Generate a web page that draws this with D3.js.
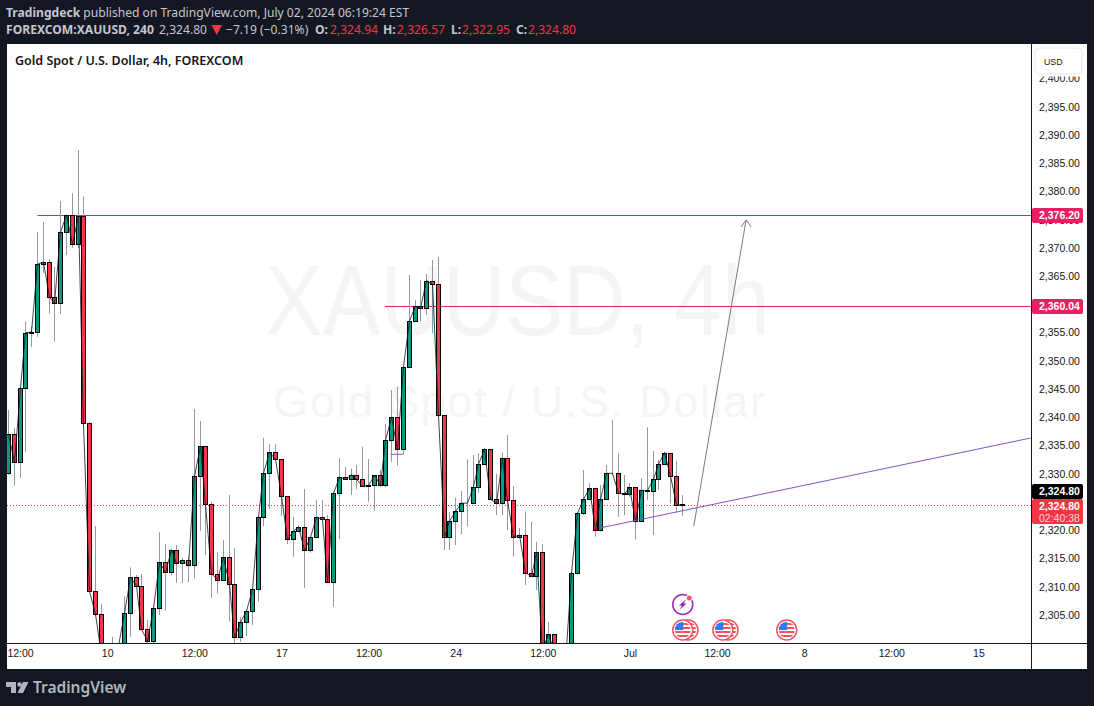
<!DOCTYPE html>
<html lang="en">
  <head>
    <meta charset="utf-8"/>
    <title>XAUUSD 4h</title>
    <script src="https://cdnjs.cloudflare.com/ajax/libs/d3/7.8.5/d3.min.js"></script>
    <style>
      body { margin: 0; background: #131722; }
      svg { display: block; }
      text { font-family: "Liberation Sans", sans-serif; }
      .head text, .head { font-family: "Noto Sans", sans-serif; }
      .axis path, .axis line { display: none; }
      .axis text { font-family: "Liberation Sans", sans-serif; font-size: 10.5px; fill: #131722; }
    </style>
  </head>
  <body>
    <script type="text/javascript">
      // candles, one value per 4h bar
      var opens = [2330.43,2337.33,2332.38,2345.48,2355.33,2355.45,2367.5,2367.8,2361.6,2360.54,2373.12,2376.18,2370.99,2376.0,2339.29,2309.53,2305.45,2298.27,2293.8,2296.48,
        2299.84,2305.63,2312.0,2310.52,2302.8,2300.73,2306.52,2314.67,2312.9,2316.85,2314.49,2315.02,2314.13,2329.9,2335.21,2324.94,2312.65,2311.58,2315.55,2310.77,
        2301.38,2304.04,2305.99,2309.88,2322.64,2330.43,2334.15,2332.91,2326.36,2318.74,2320.16,2320.97,2316.79,2319.1,2322.64,2322.28,2311.12,2326.89,2329.72,2329.37,
        2330.18,2329.37,2328.12,2328.3,2330.07,2328.3,2336.27,2340.35,2334.68,2349.31,2357.41,2360.06,2359.65,2364.54,2363.96,2340.7,2319.2,2321.93,2323.7,2325.12,
        2325.12,2328.06,2332.02,2334.68,2325.82,2325.12,2333.09,2325.65,2319.1,2319.5,2312.83,2312.18,2316.44,2299.13,2301.92,2298.78,2296.48,2299.49,2312.72,2323.35,
        2325.82,2327.77,2320.33,2325.82,2330.43,2330.43,2326.89,2326.77,2327.95,2321.93,2327.42,2327.38,2329.37,2332.02,2334.08,2329.95,2324.94];
      var highs = [2341.64,2338.45,2345.6,2357.28,2356.4,2373.22,2374.94,2368.33,2367.0,2378.66,2376.36,2380.02,2387.69,2379.42,2339.57,2321.1,2307.28,2300.0,2301.49,2300.37,
        2308.7,2313.78,2312.42,2312.6,2304.45,2306.57,2319.98,2317.9,2317.15,2317.73,2315.43,2315.66,2341.82,2339.69,2335.21,2325.4,2316.44,2318.6,2326.59,2317.15,
        2305.03,2306.22,2310.11,2322.74,2336.73,2335.57,2335.57,2332.91,2326.36,2322.74,2321.1,2327.65,2319.2,2325.7,2325.7,2323.04,2327.17,2333.09,2331.6,2331.31,
        2331.9,2335.14,2332.96,2330.13,2331.0,2339.16,2345.18,2345.77,2349.43,2365.55,2361.12,2364.67,2365.73,2368.21,2368.79,2340.76,2323.58,2326.11,2327.3,2332.91,
        2333.67,2333.97,2334.91,2334.73,2330.3,2334.08,2337.21,2328.18,2320.74,2323.63,2321.86,2318.31,2317.9,2304.03,2301.97,2299.13,2300.0,2312.95,2323.45,2331.0,
        2328.66,2327.77,2328.36,2331.9,2339.87,2333.97,2330.13,2328.71,2327.95,2329.54,2338.58,2334.38,2332.78,2334.25,2334.08,2332.61,2326.57];
      var lows = [2330.13,2328.23,2329.65,2334.25,2352.85,2354.62,2365.9,2358.76,2353.74,2358.64,2369.1,2370.39,2370.33,2338.98,2309.4,2305.2,2295.6,2292.05,2292.05,2295.6,
        2299.13,2301.49,2310.34,2302.68,2299.13,2300.0,2305.33,2306.09,2312.29,2311.05,2310.95,2311.12,2311.83,2320.26,2315.96,2308.4,2309.18,2311.53,2304.15,2300.3,
        2300.6,2301.62,2303.56,2307.69,2321.1,2324.1,2332.91,2322.87,2317.9,2315.66,2320.08,2310.17,2316.37,2319.02,2322.16,2311.0,2306.81,2318.79,2329.24,2326.59,
        2327.6,2328.1,2325.4,2323.8,2328.0,2327.95,2332.48,2331.77,2333.67,2349.2,2357.28,2357.28,2358.47,2355.23,2340.45,2316.85,2316.85,2317.73,2319.68,2320.97,
        2325.12,2326.99,2331.9,2325.7,2323.04,2323.04,2320.39,2315.66,2319.06,2310.64,2312.01,2309.76,2297.36,2299.13,2297.36,2295.2,2295.94,2299.13,2312.54,2323.04,
        2325.7,2319.2,2320.08,2325.7,2330.13,2322.74,2323.04,2326.29,2318.74,2321.86,2325.7,2319.5,2327.47,2332.02,2325.12,2323.45,2322.95];
      var closes = [2337.33,2332.38,2345.48,2355.33,2355.45,2367.5,2367.8,2361.6,2360.54,2373.12,2376.18,2370.99,2376.0,2339.29,2309.53,2305.45,2298.27,2293.8,2296.48,2299.84,
        2305.63,2312.0,2310.52,2302.8,2300.73,2306.52,2314.67,2312.9,2316.85,2314.49,2315.02,2314.13,2329.9,2335.21,2324.94,2312.65,2311.58,2315.55,2310.77,2301.38,
        2304.04,2305.99,2309.88,2322.64,2330.43,2334.15,2332.91,2326.36,2318.74,2320.16,2320.97,2316.79,2319.1,2322.64,2322.28,2311.12,2326.89,2329.72,2329.37,2330.18,
        2329.37,2328.12,2328.3,2330.07,2328.3,2336.27,2340.35,2334.68,2349.31,2357.41,2360.06,2359.65,2364.54,2363.96,2340.7,2319.2,2321.93,2323.7,2325.12,2325.15,
        2328.06,2332.02,2334.68,2325.82,2325.12,2333.09,2325.65,2319.1,2319.5,2312.83,2312.18,2316.44,2299.13,2301.92,2298.78,2296.48,2299.49,2312.72,2323.35,2325.82,
        2327.77,2320.33,2325.82,2330.43,2330.43,2326.89,2326.77,2327.95,2321.93,2327.42,2327.38,2329.37,2332.02,2334.08,2329.95,2324.87,2324.8];

      var priceTicks = [2305,2310,2315,2320,2330,2335,2340,2345,2350,2355,2365,2370,2375,2380,2385,2390,2395,2400];
      var timeTicks = [2,17,32,47,62,77,92,107,122,137,152,167];
      var timeLabels = ["12:00","10","12:00","17","12:00","24","12:00","Jul","12:00","8","12:00","15"];

      // drawings on the chart, [bar, price]
      var resistance = 2376.2;
      var target = 2360.04;
      var lastPrice = 2324.8;
      var trendLine = [[101.8, 2320.74], [176, 2336.68]];
      var smallLine = [[65.8, 2333.8], [67.9, 2333.8]];
      var arrowLine = [[118, 2321.1], [127, 2375.3]];
      var flagsBack = [117, 123.9];
      var flagsFront = [116.1, 123, 134];

      var w = 1094, h = 706;
      var left = 7, right = 1031, top_ = 44, bottom = 643;

      var svg = d3.select("body").append("svg").attr("width", w).attr("height", h);

      var xScale = d3.scaleLinear().domain([0, 116]).range([8.4, 682.2]);
      var yScale = d3.scaleLinear().domain([2400, 2305]).range([80.5, 616.9]);

      // white panel with chart, price and time areas
      svg.append("rect").attr("x", left).attr("y", top_).attr("width", 1080).attr("height", 625).attr("fill", "#fff");
      svg.append("clipPath").attr("id", "plot").append("rect")
         .attr("x", left).attr("y", top_).attr("width", right - left).attr("height", bottom - top_);

      // watermark
      svg.append("text").attr("x", 265).attr("y", 335).attr("textLength", 505).attr("lengthAdjust", "spacingAndGlyphs")
         .attr("font-size", "100px").attr("fill", "#f5f5f5").attr("font-family", "Noto Sans").text("XAUUSD, 4h");
      svg.append("text").attr("x", 273).attr("y", 417).attr("textLength", 492).attr("lengthAdjust", "spacing")
         .attr("font-size", "45px").attr("fill", "#f5f5f5").attr("font-family", "Noto Sans").text("Gold Spot / U.S. Dollar");

      var plot = svg.append("g").attr("clip-path", "url(#plot)");

      function cx(i) { return Math.floor(xScale(i)) + 0.5; }
      function py(p) { return Math.round(yScale(p)) + 0.5; }
      var bars = d3.range(closes.length);

      // horizontal levels
      plot.append("line").attr("x1", xScale(5)).attr("x2", right)
          .attr("y1", py(resistance)).attr("y2", py(resistance)).attr("stroke", "#e91e63");
      plot.append("line").attr("x1", 385).attr("x2", right)
          .attr("y1", py(target)).attr("y2", py(target)).attr("stroke", "#e91e63");
      plot.append("line").attr("x1", left).attr("x2", right)
          .attr("y1", py(lastPrice)).attr("y2", py(lastPrice))
          .attr("stroke", "#f23645").attr("stroke-dasharray", "1 2");

      // wicks
      plot.selectAll(".wick").data(bars).enter().append("line").attr("class", "wick")
          .attr("x1", cx).attr("x2", cx)
          .attr("y1", function(i) { return yScale(highs[i]); })
          .attr("y2", function(i) { return yScale(lows[i]); })
          .attr("stroke", "#9598a1");

      // bodies
      plot.selectAll(".body").data(bars).enter().append("rect").attr("class", "body")
          .attr("x", function(i) { return cx(i) - 2; })
          .attr("width", 4)
          .attr("y", function(i) { return py(Math.max(opens[i], closes[i])); })
          .attr("height", function(i) { return py(Math.min(opens[i], closes[i])) - py(Math.max(opens[i], closes[i])); })
          .attr("fill", function(i) { return closes[i] >= opens[i] ? "#089981" : "#f23645"; })
          .attr("stroke", "#000");

      // close line on top of the candles
      var closeLine = d3.line().x(cx).y(function(i) { return yScale(closes[i]); });
      plot.append("path").attr("d", closeLine(bars)).attr("fill", "none")
          .attr("stroke", "#131722").attr("stroke-opacity", 0.8);

      // trend lines and arrow
      var drawn = d3.line().x(function(d) { return xScale(d[0]); }).y(function(d) { return yScale(d[1]); });
      plot.append("path").attr("d", drawn(trendLine)).attr("stroke", "#7e57c2").attr("fill", "none");
      plot.append("path").attr("d", drawn(smallLine)).attr("stroke", "#7e57c2").attr("fill", "none");
      plot.append("path").attr("d", drawn(arrowLine)).attr("stroke", "#787b86").attr("fill", "none");
      var tipX = xScale(arrowLine[1][0]), tipY = yScale(arrowLine[1][1]);
      plot.append("path").attr("fill", "none").attr("stroke", "#787b86")
          .attr("d", d3.line()([[tipX - 5, tipY + 7], [tipX, tipY], [tipX + 5, tipY + 7]]));

      // event icons
      function flag(x, y) {
        var f = svg.append("g").attr("transform", "translate(" + x + "," + y + ")");
        f.append("circle").attr("r", 10).attr("fill", "#fff").attr("stroke", "#f7525f").attr("stroke-width", 1.5);
        f.append("clipPath").attr("id", "fc" + Math.round(x)).append("circle").attr("r", 8);
        var inner = f.append("g").attr("clip-path", "url(#fc" + Math.round(x) + ")");
        [-6, -2, 2, 6].forEach(function(s) {
          inner.append("rect").attr("x", -8).attr("y", s - 1).attr("width", 16).attr("height", 2).attr("fill", "#f7525f");
        });
        inner.append("rect").attr("x", -8).attr("y", -8).attr("width", 8.5).attr("height", 8).attr("fill", "#3179f5");
      }
      flagsBack.forEach(function(b) { flag(xScale(b), 630); });
      flagsFront.forEach(function(b) { flag(xScale(b), 630); });

      var boltX = xScale(flagsFront[0]);
      svg.append("circle").attr("cx", boltX).attr("cy", 604.5).attr("r", 10)
         .attr("fill", "#fff").attr("stroke", "#9c27b0").attr("stroke-width", 1.5);
      svg.append("path").attr("fill", "#9c27b0")
         .attr("transform", "translate(" + boltX + ",604.5)")
         .attr("d", "M3,-5 L-4,1 L-1,1 L-3,5 L4,-1 L1,-1 Z");
      svg.append("circle").attr("cx", boltX + 6.5).attr("cy", 598).attr("r", 3).attr("fill", "#f7525f")
         .attr("stroke", "#fff");

      // axis borders
      svg.append("line").attr("x1", right + 0.5).attr("x2", right + 0.5).attr("y1", top_).attr("y2", 669).attr("stroke", "#131722");
      svg.append("line").attr("x1", left).attr("x2", 1087).attr("y1", bottom + 0.5).attr("y2", bottom + 0.5).attr("stroke", "#131722");

      // axes
      var yAxis = d3.axisRight(yScale).tickValues(priceTicks).tickSize(0).tickPadding(8)
                    .tickFormat(d3.format(",.2f"));
      svg.append("g").attr("class", "axis").attr("transform", "translate(" + right + ",-2)").call(yAxis);

      var xAxis = d3.axisBottom(xScale).tickValues(timeTicks).tickSize(0).tickPadding(7)
                    .tickFormat(function(d, i) { return timeLabels[i]; });
      svg.append("g").attr("class", "axis").attr("transform", "translate(0," + bottom + ")").call(xAxis);

      // USD box covers the top of the scale, and the top of the 2,400.00 label
      svg.append("rect").attr("x", 1033).attr("y", 45).attr("width", 52).attr("height", 31.5).attr("fill", "#fff");
      svg.append("rect").attr("x", 1035).attr("y", 48).attr("width", 47).attr("height", 26).attr("rx", 4)
         .attr("fill", "#fff").attr("stroke", "#e6e8ef");
      svg.append("text").attr("x", 1044).attr("y", 64.5).attr("font-size", "8.8px").attr("fill", "#131722").text("USD");

      // price tags
      function tag(y0, color, rows, height) {
        svg.append("rect").attr("x", right + 1).attr("y", y0).attr("width", 51).attr("height", height).attr("rx", 2).attr("fill", color);
        rows.forEach(function(r, k) {
          svg.append("text").attr("x", 1039).attr("y", y0 + 11 + k * 11.5).attr("font-size", "10.5px")
             .attr("font-weight", k == 0 ? "bold" : "normal")
             .attr("fill", k == 0 ? "#fff" : "#ffd5d9").text(r);
        });
      }
      var fmt = d3.format(",.2f");
      tag(py(resistance) - 7.5, "#e91e63", [fmt(resistance)], 15);
      tag(py(target) - 7.5, "#e91e63", [fmt(target)], 15);
      tag(484, "#000", [fmt(lastPrice)], 15);
      tag(499, "#f23645", [fmt(lastPrice), "02:40:38"], 25);

      // panel title
      svg.append("text").attr("class", "head").attr("x", 15).attr("y", 65)
         .attr("font-size", "12.5px").attr("font-weight", 600).attr("fill", "#131722")
         .text("Gold Spot / U.S. Dollar, 4h, FOREXCOM");

      // header lines
      var grey = "#c3c6ce", red = "#f23645";
      var line1 = svg.append("text").attr("class", "head").attr("x", 6).attr("y", 17).attr("font-size", "12.1px").attr("fill", grey);
      line1.append("tspan").attr("font-weight", 700).text("Tradingdeck");
      line1.append("tspan").text(" published on TradingView.com, July 02, 2024 06:19:24 EST");

      function head2(x, str, color, weight) {
        svg.append("text").attr("class", "head").attr("x", x).attr("y", 34).attr("font-size", "12.1px")
           .attr("fill", color).attr("font-weight", weight).text(str);
      }
      head2(6, "FOREXCOM:XAUUSD, 240", grey, 700);
      head2(159, "2,324.80", grey, 400);
      svg.append("path").attr("d", "M211.5,25 H222 L216.7,35 Z").attr("fill", red);
      head2(226, "\u22127.19 (\u22120.31%)", grey, 400);
      head2(315, "O:", grey, 700);
      head2(330, "2,324.94", red, 400);
      head2(383, "H:", grey, 700);
      head2(397, "2,326.57", red, 400);
      head2(451, "L:", grey, 700);
      head2(462, "2,322.95", red, 400);
      head2(516, "C:", grey, 700);
      head2(528, "2,324.80", red, 400);

      // footer logo
      var logo = svg.append("g").attr("fill", "#b2b5be");
      logo.append("path").attr("d", "M6,682 H16 V693 H11 V687 H6 Z");
      logo.append("circle").attr("cx", 19.5).attr("cy", 684.5).attr("r", 2.2);
      logo.append("path").attr("d", "M23,682 H28.5 L23,693 H17.5 Z");
      svg.append("text").attr("class", "head").attr("x", 33).attr("y", 693)
         .attr("font-size", "15.5px").attr("font-weight", 600).attr("fill", "#b2b5be").text("TradingView");
    </script>
  </body>
</html>
